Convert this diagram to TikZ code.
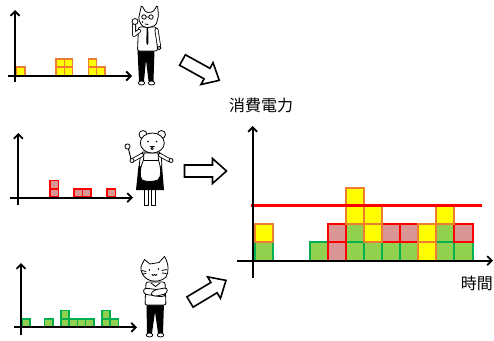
\documentclass[tikz,border=0pt]{standalone}
\usepackage{fontspec}
\newfontfamily\jpfont{Noto Sans CJK JP}
\usetikzlibrary{arrows.meta}

\definecolor{ylwfill}{RGB}{255,255,0}
\definecolor{ylwline}{RGB}{237,125,49}
\definecolor{redfill}{RGB}{217,150,148}
\definecolor{redline}{RGB}{255,0,0}
\definecolor{grnfill}{RGB}{146,208,80}
\definecolor{grnline}{RGB}{0,176,80}

\tikzset{
  axisline/.style={line width=2.1pt, -{Straight Barb[length=4.5pt,width=9pt,line width=1.8pt]}},
  ycell/.style={draw=ylwline, fill=ylwfill, line width=1.6pt},
  rcell/.style={draw=redline, fill=redfill, line width=1.6pt},
  gcell/.style={draw=grnline, fill=grnfill, line width=1.6pt},
  bigy/.style={ycell, line width=2pt},
  bigr/.style={rcell, line width=2pt},
  bigg/.style={gcell, line width=2pt},
  capline/.style={draw=redline, line width=2.4pt},
  axislabel/.style={font=\jpfont\fontsize{16}{16}\selectfont, inner sep=0pt},
  figline/.style={line width=0.8pt, line join=round, line cap=round},
  limb/.style={figline, double=white, double distance=2.4pt},
  blockarrow/.pic={
    \draw[line width=1.6pt, fill=white, line join=miter]
      (0,6) -- (28,6) -- (28,12.5) -- (42,0) -- (28,-12.5) -- (28,-6) -- (0,-6) -- cycle;
  }
}

\begin{document}
\begin{tikzpicture}[x=1pt, y=-1pt]
\useasboundingbox (0,0) rectangle (494,340);

% ---------- chart 1: yellow blocks ----------
\foreach \cx/\r in {16.5/0, 56/0, 56/1, 64.3/0, 64.3/1, 88.3/0, 88.3/1, 96.6/0}
  \draw[ycell] (\cx,{75.5-\r*8.3}) rectangle ++(8.3,-8.3);
\coordinate (o1y) at (15,82);  \coordinate (t1y) at (15,10);
\coordinate (o1x) at (8,76);   \coordinate (t1x) at (132,76);
\draw[axisline] (o1y) -- (t1y);
\draw[axisline] (o1x) -- (t1x);

% ---------- chart 2: red blocks ----------
\foreach \cx/\r in {50/0, 50/1, 74/0, 82.5/0, 106.8/0}
  \draw[rcell] (\cx,{197-\r*8.3}) rectangle ++(8.5,-8.3);
\coordinate (o2y) at (18.3,205); \coordinate (t2y) at (18.3,133);
\coordinate (o2x) at (10,197.7);  \coordinate (t2x) at (133,197.7);
\draw[axisline] (o2y) -- (t2y);
\draw[axisline] (o2x) -- (t2x);

% ---------- chart 3: green blocks ----------
\foreach \cx/\r in {21.7/0, 44.5/0, 60.7/0, 60.7/1, 69/0, 77.3/0, 85.6/0, 101.7/0, 101.7/1, 110/0}
  \draw[gcell] (\cx,{327-\r*8.3}) rectangle ++(8.3,-8.3);
\coordinate (o3y) at (21,335);  \coordinate (t3y) at (21,263);
\coordinate (o3x) at (14,327.3); \coordinate (t3x) at (137,327.3);
\draw[axisline] (o3y) -- (t3y);
\draw[axisline] (o3x) -- (t3x);

% ---------- combined chart ----------
\foreach \c/\r in {0/0, 3/0, 5/0, 5/1, 6/0, 7/0, 8/0, 10/0, 10/1, 11/0}
  \draw[bigg] ({255.3+\c*18.1},{260.5-\r*18.1}) rectangle ++(18.1,-18.1);
\foreach \c/\r in {4/0, 4/1, 7/1, 8/1, 11/1}
  \draw[bigr] ({255.3+\c*18.1},{260.5-\r*18.1}) rectangle ++(18.1,-18.1);
\foreach \c/\r in {0/1, 5/2, 5/3, 6/1, 6/2, 9/0, 9/1, 10/2}
  \draw[bigy] ({255.3+\c*18.1},{260.5-\r*18.1}) rectangle ++(18.1,-18.1);
\coordinate (lim0) at (250.7,205.5); \coordinate (lim1) at (482.3,205.5);
\draw[capline] (lim0) -- (lim1);
\coordinate (oMy) at (252.7,278); \coordinate (tMy) at (252.7,126);
\coordinate (oMx) at (237,260.7); \coordinate (tMx) at (493,260.7);
\draw[axisline] (oMy) -- (tMy);
\draw[axisline] (oMx) -- (tMx);
\node[axislabel, anchor=north west] (ylab) at (229,98) {消費電力};
\node[axislabel, anchor=north east] (xlab) at (493,276) {時間};

% ---------- block arrows ----------
\pic (arr1) [rotate=-29] at (182.5,60) {blockarrow};
\pic (arr2) at (184.5,171) {blockarrow};
\pic (arr3) [rotate=31] at (190,302) {blockarrow};

% ---------- figure 1: wolf in shirt and tie ----------
\begin{scope}[figline]
  % trousers
  \fill[black] (137.5,50) -- (154.5,50) -- (153.5,81) -- (148.5,81) -- (146,60) -- (144,81) -- (139,81) -- cycle;
  % shoes
  \draw[fill=white] (141.5,83) ellipse (3.2 and 2);
  \draw[fill=white] (151.5,83) ellipse (3.2 and 2);
  % shirt
  \draw[fill=white, rounded corners=2] (138.5,27) -- (156.5,27) -- (157.5,51) -- (137.5,51) -- cycle;
  % hanging arm
  \draw[limb] (156.5,30) -- (159,46);
  \draw[fill=white] (159.2,48) circle (1.8);
  % raised arm with fist
  \draw[limb] (139,31) -- (134,35) -- (134,25);
  \draw[fill=white] (135,21.5) circle (3);
  % tie
  \fill[black] (146.6,28) -- (148.2,28) -- (148.4,43) -- (147.4,45) -- (146.4,43) -- cycle;
  % head
  \draw[fill=white, rounded corners=1.5] (141.5,5) -- (146,12.5) -- (153,12) -- (157.5,5)
     -- (158.5,16) -- (156,25) -- (148,28) -- (142,26) -- (138.5,19) -- cycle;
  \draw (144,17) circle (2.2) (151,17) circle (2.2) (146.2,17) -- (148.8,17);
  \fill (142.5,22) circle (0.9);
  \draw (145,24) -- (148,24.5);
\end{scope}

% ---------- figure 2: mouse in apron with ladle ----------
\begin{scope}[figline]
  % legs
  \draw[fill=white] (144,189) rectangle (148,205);
  \draw[fill=white] (151,189) rectangle (155,205);
  % dress
  \fill[black] (138.5,166) -- (162,166) -- (164,190) -- (136,190) -- cycle;
  % shirt top
  \draw[fill=white, rounded corners=2] (141,152) -- (161,152) -- (162,167) -- (139,167) -- cycle;
  % apron
  \draw[fill=white] (144,153) -- (158,153) -- (158.5,160) .. controls (161,168) and (162,176) .. (158,180)
     .. controls (152,182) and (147,182) .. (142,180) .. controls (139,176) and (140,168) .. (143.5,160) -- cycle;
  \draw (144,160) -- (158.5,160);
  % arms
  \draw[limb] (142,155) -- (133,160);
  \draw[limb] (160,155) -- (169,160);
  \draw[fill=white] (171,160.5) circle (2);
  % ladle
  \draw[line width=0.9pt] (131.5,161) -- (128.5,149);
  \draw[fill=white] (127.5,146.5) circle (2.6);
  \draw[fill=white] (132,160.5) circle (2);
  % ears and head
  \draw[fill=white] (143,134.5) circle (4);
  \draw[fill=white] (161.5,134.5) circle (4);
  \draw[fill=white] (152.3,143) ellipse (12 and 10);
  \fill (148,141.5) circle (0.9) (156.5,141.5) circle (0.9);
  \draw (150,146.5) -- (154.5,146.5);
  \draw[fill=white] (152.2,148.5) circle (1.2);
\end{scope}

% ---------- figure 3: cat with folded arms ----------
\begin{scope}[figline]
  % trousers
  \fill[black] (146.5,303) -- (164,303) -- (163,333) -- (158,333) -- (155,312) -- (152,333) -- (147,333) -- cycle;
  % shoes
  \draw[fill=white] (149.5,335) ellipse (3.3 and 2);
  \draw[fill=white] (160.5,335) ellipse (3.3 and 2);
  % shirt
  \draw[fill=white, rounded corners=2] (146,282) -- (165,282) -- (166,305) -- (145,305) -- cycle;
  % folded arms
  \draw[fill=white, rounded corners=3] (143.5,288) -- (157,289.5) -- (166.5,294) -- (163,297) -- (150,295) -- (143.5,294) -- cycle;
  \draw[fill=white, rounded corners=3] (167.5,287.5) -- (154,290) -- (150,294.5) -- (155,296.5) -- (167,293.5) -- cycle;
  % collar
  \draw (151,283) -- (155.5,286.5) -- (160,283);
  % head
  \draw[fill=white] (142.5,274) .. controls (140,268) .. (144.5,259.5) -- (150,264) -- (159,262.5) -- (164.5,256.5)
     .. controls (169,264) and (169,272) .. (166,277) .. controls (160,283) and (147,283) .. (142.5,274) -- cycle;
  \fill (149.5,270) circle (0.9) (158.5,269) circle (0.9);
  \draw (152,274.5) .. controls (153,276) .. (154.3,274.3) .. controls (155.5,276) .. (157,274.3);
  \draw (142,270.5) -- (146,271.5) (142.3,274) -- (146,273.5);
  \draw (162,270.5) -- (166.5,269.5) (162,273) -- (166.3,273.5);
\end{scope}
\end{tikzpicture}
\end{document}
